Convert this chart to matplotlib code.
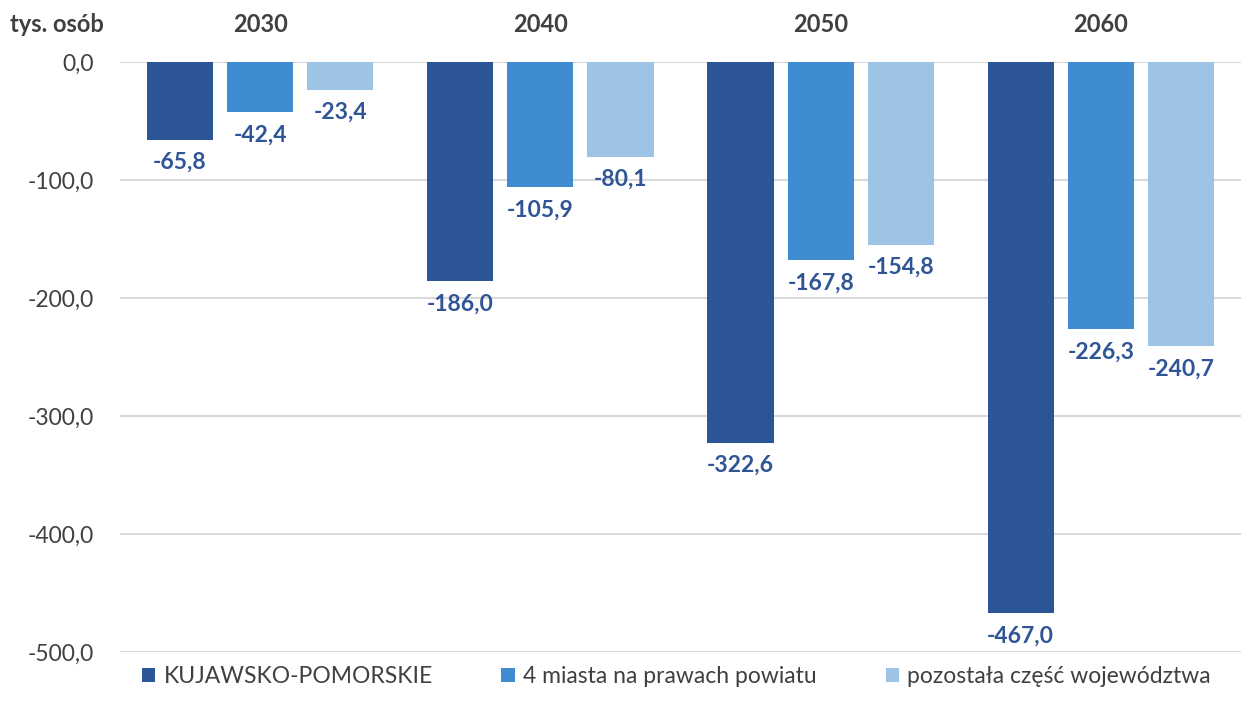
import numpy as np
import matplotlib.pyplot as plt

plt.rcParams['font.family'] = ['Lato', 'DejaVu Sans']

years = ["2030", "2040", "2050", "2060"]
series_names = ["KUJAWSKO-POMORSKIE", "4 miasta na prawach powiatu",
                "pozostała część województwa"]
kujawsko = [-65.8, -186.0, -322.6, -467.0]
miasta = [-42.4, -105.9, -167.8, -226.3]
pozostala = [-23.4, -80.1, -154.8, -240.7]
yticks = [0, -100, -200, -300, -400, -500]

colors = ["#2B5597", "#408CD0", "#9DC3E6"]
label_color = "#2F5597"
text_color = "#404040"

fig = plt.figure(figsize=(12.41, 7.02), dpi=100)
ax = fig.add_axes([0.0967, 0.0712, 0.9033, 0.8405])

x = np.arange(len(years))
width = 0.236
step = 0.286
for i, (vals, name) in enumerate(zip([kujawsko, miasta, pozostala], series_names)):
    pos = x + (i - 1) * step
    bars = ax.bar(pos, vals, width, color=colors[i], label=name, zorder=3)
    for b, v in zip(bars, vals):
        ax.annotate(f"{v:.1f}".replace(".", ","),
                    (b.get_x() + b.get_width() / 2, v),
                    xytext=(0, -9), textcoords="offset points",
                    ha="center", va="top", fontsize=16.5, fontweight="bold",
                    color=label_color)

ax.set_xlim(-0.5, 3.5)
ax.set_ylim(-500, 0)
ax.set_yticks(yticks)
ax.set_yticklabels([f"{t:.1f}".replace(".", ",") for t in yticks],
                   fontsize=16.5, color=text_color)
ax.tick_params(axis="y", length=0, pad=19)
ax.set_xticks([])
for s in ax.spines.values():
    s.set_visible(False)
ax.grid(axis="y", color="#D9D9D9", linewidth=1.5, zorder=0)
ax.set_axisbelow(True)

# year headers above each group
for xi, yr in zip(x, years):
    ax.text(xi, 1.063, yr, transform=ax.get_xaxis_transform(),
            ha="center", va="center", fontsize=17, fontweight="bold",
            color=text_color)

fig.text(0.008, 0.965, "tys. osób", ha="left", va="center", fontsize=17,
         fontweight="bold", color=text_color)

fig.legend(loc="lower center", bbox_to_anchor=(0.545, -0.008), ncol=3,
           frameon=False, fontsize=16.5, handlelength=0.6, handleheight=0.6,
           handletextpad=0.35, columnspacing=3.0, labelcolor=text_color)

fig.savefig("out.png", dpi=100)
